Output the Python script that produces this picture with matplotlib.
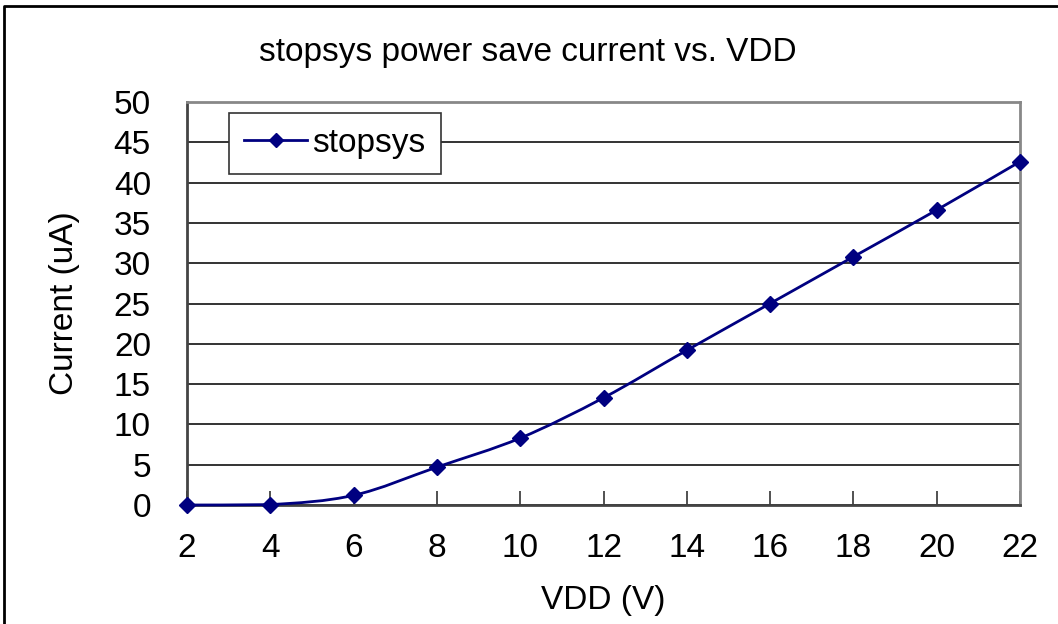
import matplotlib
matplotlib.use("Agg")
import matplotlib.pyplot as plt
from matplotlib.path import Path
from matplotlib.patches import PathPatch
from matplotlib.lines import Line2D
import numpy as np

vdd = [2, 4, 6, 8, 10, 12, 14, 16, 18, 20, 22]
current = [0, 0.05, 1.2, 4.7, 8.3, 13.3, 19.2, 25.0, 30.8, 36.6, 42.6]
x_ticks = [2, 4, 6, 8, 10, 12, 14, 16, 18, 20, 22]
y_ticks = [0, 5, 10, 15, 20, 25, 30, 35, 40, 45, 50]
series_name = "stopsys"

plt.rcParams["font.family"] = ["Liberation Sans", "DejaVu Sans"]
NAVY = "#000080"
FS = 24

fig = plt.figure(figsize=(10.58, 6.24), dpi=100)
ax = fig.add_axes([187 / 1058, 1 - 505 / 624, (1020 - 187) / 1058, (505 - 102) / 624])

# Smoothed connecting line (Catmull-Rom style Bezier segments through the points)
pts = np.column_stack([vdd, current]).astype(float)
n = len(pts)
verts = [tuple(pts[0])]
codes = [Path.MOVETO]
for i in range(n - 1):
    p0 = pts[i - 1] if i > 0 else pts[i]
    p1 = pts[i]
    p2 = pts[i + 1]
    p3 = pts[i + 2] if i + 2 < n else pts[i + 1]
    c1 = p1 + (p2 - p0) / 6.0
    c2 = p2 - (p3 - p1) / 6.0
    # keep the flat start from dipping below the axis
    c1[1] = max(c1[1], 0.0)
    c2[1] = max(c2[1], 0.0)
    verts += [tuple(c1), tuple(c2), tuple(p2)]
    codes += [Path.CURVE4] * 3
curve = PathPatch(Path(verts, codes), facecolor="none", edgecolor=NAVY, lw=2.0,
                  zorder=3, clip_on=False)
ax.add_patch(curve)
ax.plot(vdd, current, linestyle="none", marker="D", markersize=8, color=NAVY,
        zorder=4, clip_on=False)

ax.set_xlim(2, 22)
ax.set_ylim(0, 50)
ax.set_xticks(x_ticks)
ax.set_xticklabels([str(v) for v in x_ticks], fontsize=FS)
ax.set_yticks(y_ticks)
ax.set_yticklabels([str(v) for v in y_ticks], fontsize=FS)
ax.tick_params(axis="x", direction="in", length=10, width=1.2, color="#333333", pad=20)
ax.tick_params(axis="y", length=0, pad=26)

ax.grid(axis="y", color="#111111", lw=1.2)
ax.set_axisbelow(True)
for side in ("left", "bottom"):
    ax.spines[side].set_color("#444444")
    ax.spines[side].set_linewidth(2.0)
for side in ("top", "right"):
    ax.spines[side].set_color("#888888")
    ax.spines[side].set_linewidth(2.0)

ax.set_xlabel("VDD (V)", fontsize=FS, labelpad=15)
ax.set_ylabel("Current (uA)", fontsize=FS, labelpad=24)
fig.text(528 / 1058, 1 - 52 / 624, "stopsys power save current vs. VDD",
         fontsize=FS, ha="center", va="center")

handle = Line2D([], [], color=NAVY, lw=2.0, marker="D", markersize=7)
leg = ax.legend([handle], [series_name], loc="upper left",
                bbox_to_anchor=((229 - 187) / 833, (505 - 113) / 403),
                fontsize=FS, frameon=True, fancybox=False, handlelength=1.9,
                borderpad=0.45, handletextpad=0.15, borderaxespad=0)
leg.get_frame().set_edgecolor("#333333")
leg.get_frame().set_linewidth(1.2)
leg.get_frame().set_alpha(1)

# Outer chart border (top and left edges)
fig.add_artist(Line2D([4 / 1058, 4 / 1058, 1.0], [0.0, 1 - 6 / 624, 1 - 6 / 624],
                      transform=fig.transFigure, color="black", lw=2.0))

fig.savefig("out.png", dpi=100)
